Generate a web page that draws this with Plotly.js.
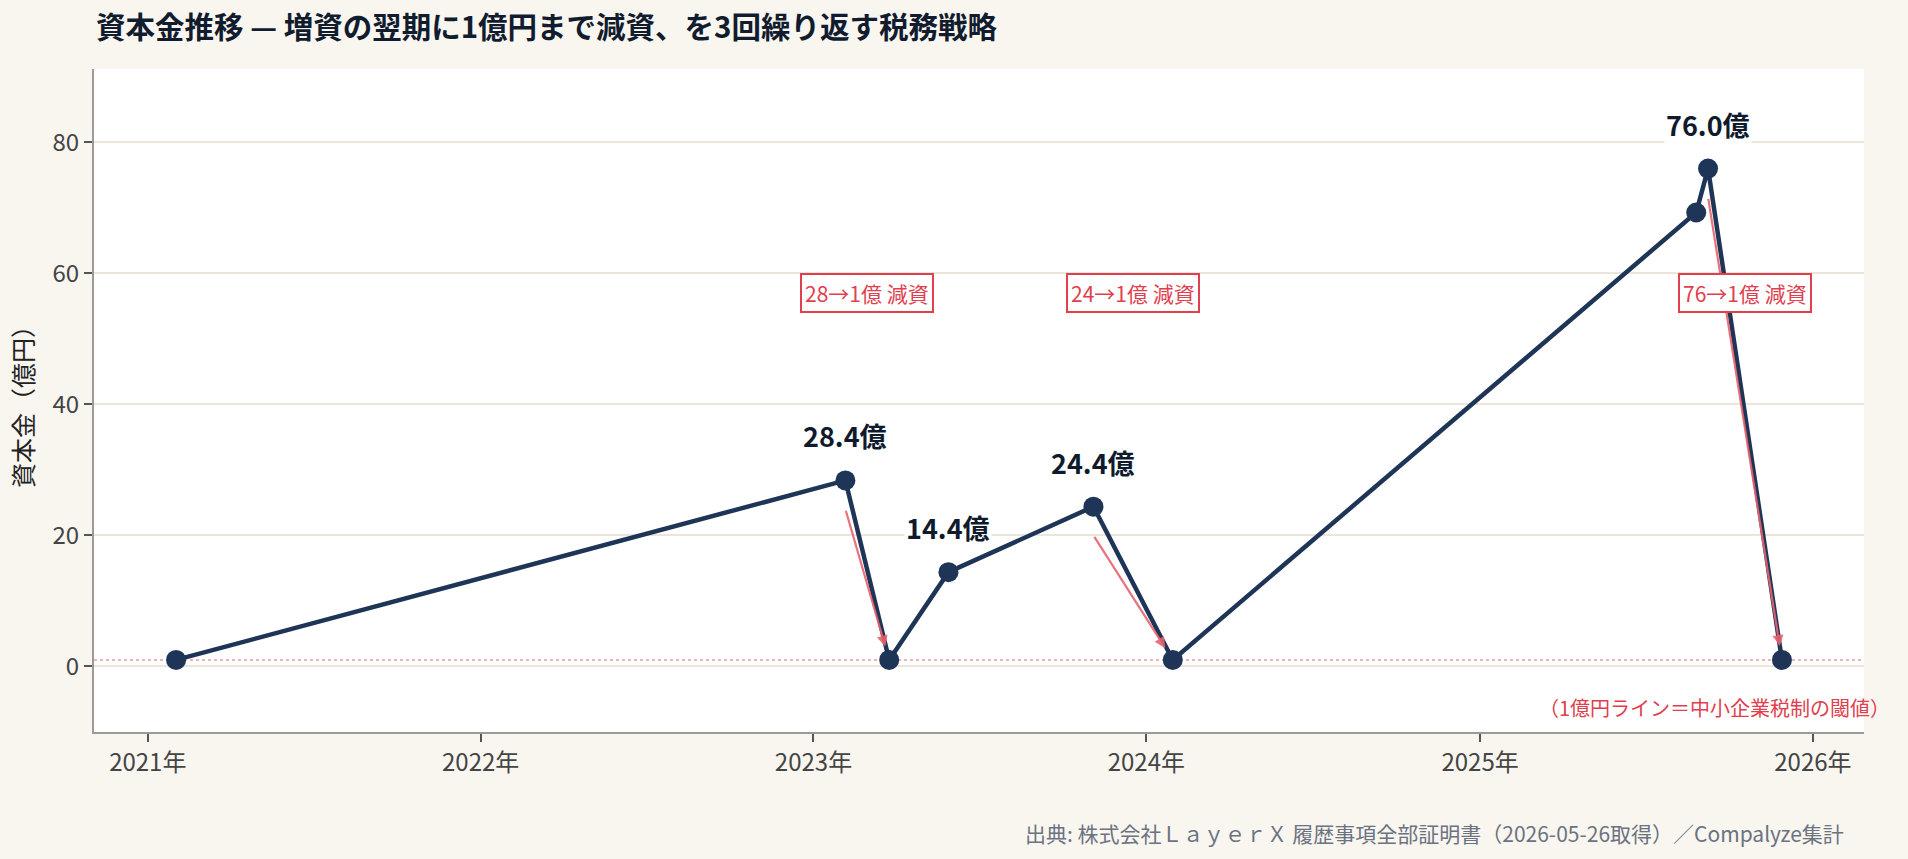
<!DOCTYPE html>
<html>
<head>
<meta charset="utf-8">
<script src="https://cdn.plot.ly/plotly-3.0.1.min.js"></script>
<style>html,body{margin:0;padding:0;background:#f9f6f0;}</style>
</head>
<body>
<div id="chart" style="width:1908px;height:859px;"></div>
<script>
// ---- data ----
const dates = ['2021-02-01','2023-02-05','2023-03-25','2023-05-29','2023-11-04','2024-01-30','2025-08-26','2025-09-08','2025-11-28'];
const capital = [1, 28.4, 1, 14.4, 24.4, 1, 69.3, 76.0, 1];
const peakIdx = [1, 3, 4, 7];
const peakLabels = ['28.4億', '14.4億', '24.4億', '76.0億'];
const cutFromIdx = [1, 4, 7];
const cutToIdx = [2, 5, 8];
const cutLabels = ['28→1億 減資', '24→1億 減資', '76→1億 減資'];
const cutArrowStart = [24.0, 20.0, 71.6];
const cutLabelValue = 57;
const thresholdValue = 1;
const titleText = '資本金推移 — 増資の翌期に1億円まで減資、を3回繰り返す税務戦略';
const yTitle = '資本金（億円）';
const thresholdNote = '（1億円ライン＝中小企業税制の閾値）';
const sourceText = '出典: 株式会社ＬａｙｅｒＸ 履歴事項全部証明書（2026-05-26取得）／Compalyze集計';
const xRange = ['2020-11-03', '2026-02-26'];
const yRange = [-10, 91.2];
const yTicks = [0, 20, 40, 60, 80];

const FONT = '"Noto Sans CJK JP", "Noto Sans", sans-serif';
const NAVY = '#1f3557';
const RED = '#e0404e';

function midDate(a, b) {
  const t = (new Date(a + 'T00:00:00Z').getTime() + new Date(b + 'T00:00:00Z').getTime()) / 2;
  return new Date(t).toISOString().slice(0, 10);
}

const trace = {
  x: dates, y: capital, type: 'scatter', mode: 'lines+markers',
  line: {color: NAVY, width: 4.5},
  marker: {color: NAVY, size: 20},
  hoverinfo: 'skip', showlegend: false
};

const annotations = [];
cutFromIdx.forEach((fi, k) => {
  const ti = cutToIdx[k];
  annotations.push({
    x: dates[ti], y: capital[ti], xref: 'x', yref: 'y',
    ax: dates[fi], ay: cutArrowStart[k], axref: 'x', ayref: 'y',
    text: '', showarrow: true, arrowhead: 2, arrowsize: 1, arrowwidth: 2.2,
    arrowcolor: 'rgba(230,100,110,0.9)', standoff: 14
  });
});
cutFromIdx.forEach((fi, k) => {
  const ti = cutToIdx[k];
  annotations.push({
    x: midDate(dates[fi], dates[ti]), y: cutLabelValue, xref: 'x', yref: 'y',
    text: cutLabels[k], showarrow: false,
    font: {family: FONT, size: 21, color: RED},
    bgcolor: '#ffffff', bordercolor: RED, borderwidth: 2, borderpad: 3
  });
});
peakIdx.forEach((pi, k) => {
  annotations.push({
    x: dates[pi], y: capital[pi], xref: 'x', yref: 'y',
    text: '<b>' + peakLabels[k] + '</b>', showarrow: false,
    yanchor: 'bottom', yshift: 23,
    font: {family: FONT, size: 27, color: '#0f1b2d'},
    bgcolor: 'rgba(255,255,255,0.95)', borderpad: 1
  });
});
annotations.push({
  x: 1.016, xref: 'paper', xanchor: 'right',
  y: -6.3, yref: 'y', yanchor: 'middle',
  text: thresholdNote, showarrow: false,
  font: {family: FONT, size: 20, color: RED}
});
annotations.push({
  x: 1, xref: 'paper', xanchor: 'right', xshift: -18,
  y: 0, yref: 'paper', yanchor: 'middle', yshift: -101,
  text: sourceText, showarrow: false,
  font: {family: FONT, size: 21, color: '#6b7280'}
});

const layout = {
  width: 1908, height: 859,
  paper_bgcolor: '#f9f6f0', plot_bgcolor: '#ffffff',
  margin: {l: 94, r: 44, t: 69, b: 127},
  font: {family: FONT, color: '#444'},
  title: {
    text: '<b>' + titleText + '</b>',
    xref: 'container', x: 96 / 1908, xanchor: 'left',
    yref: 'container', y: 1 - 28 / 859, yanchor: 'middle',
    font: {family: FONT, size: 29.5, color: '#111c2e'}
  },
  xaxis: {
    type: 'date', range: xRange,
    tick0: '2021-01-01', dtick: 'M12', tickformat: '%Y年',
    showgrid: false, zeroline: false,
    showline: true, linecolor: '#9b9b9b', linewidth: 2,
    ticks: 'outside', ticklen: 8, tickwidth: 2, tickcolor: '#555',
    tickfont: {family: FONT, size: 24, color: '#444'}
  },
  yaxis: {
    range: yRange, tickmode: 'array', tickvals: yTicks,
    showgrid: true, gridcolor: '#ece6da', gridwidth: 2, zeroline: false,
    showline: true, linecolor: '#9b9b9b', linewidth: 2,
    ticks: 'outside', ticklen: 8, tickwidth: 2, tickcolor: '#555',
    tickfont: {family: FONT, size: 24, color: '#444'},
    title: {text: yTitle, standoff: 12, font: {family: FONT, size: 25, color: '#222'}}
  },
  shapes: [{
    type: 'line', xref: 'paper', x0: 0, x1: 1, yref: 'y', y0: thresholdValue, y1: thresholdValue,
    line: {color: '#f19aa0', width: 1.5, dash: 'dot'}, layer: 'below'
  }],
  annotations: annotations,
  showlegend: false
};

Plotly.newPlot('chart', [trace], layout, {displayModeBar: false, staticPlot: true});
</script>
</body>
</html>
